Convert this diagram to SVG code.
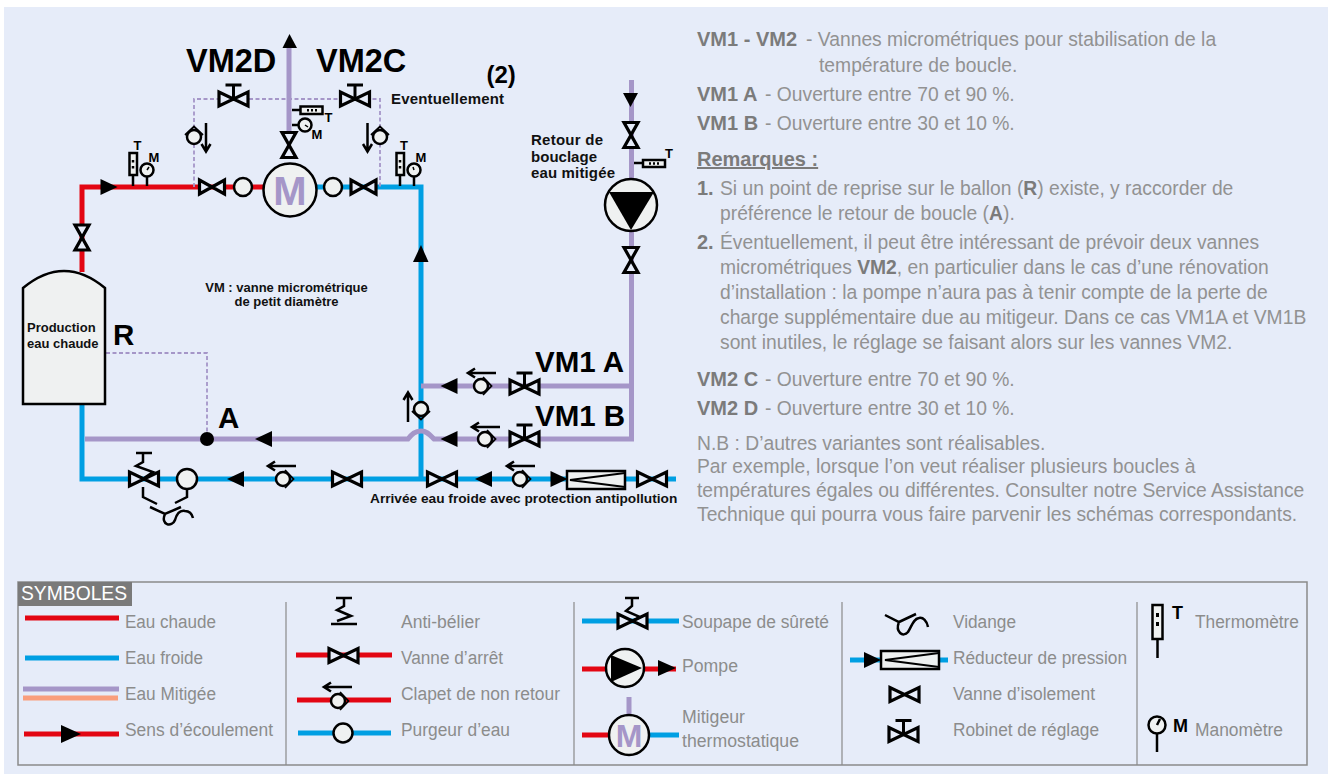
<svg xmlns="http://www.w3.org/2000/svg" width="1328" height="774" viewBox="0 0 1328 774">
<defs>
<style>
text{font-family:"Liberation Sans",Arial,sans-serif}
.b{font-weight:700;fill:#111}
.g{fill:#929292;font-size:19.3px}
.g tspan{fill:#7b7b7b}
.gb{fill:#7b7b7b;font-size:20px;font-weight:700}
.l{fill:#8c8c8c;font-size:18px}
.big{font-weight:700;fill:#000;font-size:29.5px}
.vm2{font-weight:700;fill:#000;font-size:32.5px}
.mid{font-weight:700;fill:#111;font-size:15px}
.sm{font-weight:700;fill:#111;font-size:13px}
.t{font-weight:700;fill:#000;font-size:13px}
.p{fill:none;stroke-width:5}
.red{stroke:#e30613}.blue{stroke:#009fe3}.mix{stroke:#a596c8}
.dash{fill:none;stroke:#a596c8;stroke-width:1.8;stroke-dasharray:4 2.5}
.k{fill:none;stroke:#000;stroke-width:2.5}
.o{fill:#eff1f1;stroke:#000;stroke-width:2.5}
</style>
<path id="valve" d="M-12.5-7V7L12.5-7V7Z" fill="#e6ecf9" stroke="#000" stroke-width="3.2"/>
<path id="valveL" d="M-14.5-7V7L14.5-7V7Z" fill="#e6ecf9" stroke="#000" stroke-width="3.2"/>
<g id="ctl"><use href="#valveL"/><path d="M0 0V-14M-8-14H8" fill="none" stroke="#000" stroke-width="3"/></g>
<path id="tri" d="M-8.500 0L8.500-8V8Z" fill="#000"/>
<g id="chk"><circle r="7" class="o" stroke-width="2.2"/><path d="M2-9L10.500 0L2 9" fill="none" stroke="#000" stroke-width="1.800"/></g>
<path id="arrL" d="M29 0H2M8-4.500L1 0L8 4.500" fill="none" stroke="#000" stroke-width="2.600"/>
</defs>
<rect width="1328" height="774" fill="#fff"/>
<rect x="4" y="7" width="1324" height="767" fill="#e6ecf9"/>

<g id="connectors">
<path class="p red" d="M82 272V187H263"/>
<path class="p blue" d="M315 187H421V479"/>
<path class="p mix" d="M289 48V135"/>
<path class="p blue" d="M82 405V479H421M421 479H676"/>
<path class="p mix" d="M85 439H408C412 434 415 431 421 431C427 431 430 435 434 439H631.500V80M421 386H631.500"/>
<path class="dash" d="M194 187V99H380V187"/>
<path class="dash" d="M106 353H207V437"/>
</g>

<g id="tank"><path d="M23 404V288Q64 254 105 288V404Z" class="o" stroke-width="2"/>
<text class="b" font-size="13" x="27" y="332">Production</text><text class="b" font-size="13" x="27" y="348">eau chaude</text></g>
<use href="#valve" transform="translate(82,237.500) rotate(90)"/>
<use href="#tri" transform="translate(109,187) rotate(180)"/>

<g id="thermo-m-left"><path class="k" d="M133 186V175M147 186V176"/><rect x="129.500" y="153" width="7.500" height="22" class="o"/><path d="M133 160v2.500M133 166v2.500" class="k"/><circle cx="147" cy="170" r="6.500" class="o"/><path d="M147 170l2-3" stroke="#000" stroke-width="1.500"/>
<text class="t" x="137.500" y="150" text-anchor="middle">T</text><text class="t" x="154" y="162" text-anchor="middle">M</text></g>
<g id="thermo-m-right"><path class="k" d="M400 186V175M414 186V176"/><rect x="396.500" y="153" width="7.500" height="22" class="o"/><path d="M400 160v2.500M400 166v2.500" class="k"/><circle cx="414" cy="170" r="6.500" class="o"/><path d="M414 170l-1-3" stroke="#000" stroke-width="1.500"/>
<text class="t" x="404" y="150" text-anchor="middle">T</text><text class="t" x="421" y="162" text-anchor="middle">M</text></g>

<use href="#valve" transform="translate(212,187)"/>
<circle cx="243" cy="187" r="9" class="o" stroke-width="3.500"/>
<circle cx="333" cy="187" r="9" class="o" stroke-width="3.500"/>
<use href="#valve" transform="translate(363.500,187)"/>

<g id="mixer"><circle cx="290" cy="190" r="26.500" class="o" stroke-width="3.500"/><text x="290" y="205" text-anchor="middle" font-size="40" font-weight="700" fill="#a596c8">M</text></g>
<use href="#valve" transform="translate(289,145) rotate(90)"/>
<path d="M282.500 48L289.500 34L297 48Z" fill="#000"/>
<g id="t-m-top"><path d="M292 110H301M292 125H299" class="k"/><rect x="300.500" y="106.500" width="22" height="7.500" class="o"/><path d="M307 110.200h2M311 110.200h2M315 110.200h2" class="k" stroke-width="2"/><circle cx="305" cy="125" r="6.500" class="o"/><path d="M305 125l3 2" stroke="#000" stroke-width="1.500"/><text class="t" x="328.500" y="122" text-anchor="middle">T</text><text class="t" x="317" y="139" text-anchor="middle">M</text></g>

<use href="#ctl" transform="translate(233.500,99)"/>
<use href="#ctl" transform="translate(355,99)"/>
<text class="vm2" x="186" y="72">VM2D</text>
<text class="vm2" x="316" y="72">VM2C</text>
<text class="b" font-size="24" x="486.500" y="83" style="fill:#000">(2)</text>
<text class="mid" x="391" y="104" textLength="113" lengthAdjust="spacing">Eventuellement</text>

<g id="chk-d"><use href="#chk" transform="translate(194,137) rotate(-90)"/><path d="M206 123V151M201.500 144L206 151.500L210.500 144" class="k"/></g>
<g id="chk-c"><use href="#chk" transform="translate(380,137) rotate(-90)"/><path d="M367.500 123V151M363 144L367.500 151.500L372 144" class="k"/></g>

<text class="sm" x="286.500" y="292" text-anchor="middle">VM : vanne micrométrique</text>
<text class="sm" x="286.500" y="306" text-anchor="middle">de petit diamètre</text>
<path d="M413 262L421 245L428.500 262Z" fill="#000"/>

<text class="big" x="113" y="345">R</text>
<text class="big" x="218" y="428">A</text>
<circle cx="207" cy="439" r="7" fill="#000"/>
<use href="#tri" transform="translate(263.500,439)"/>

<g class="mid"><text class="mid" x="531" y="145" textLength="72">Retour de</text><text class="mid" x="531" y="162" textLength="66">bouclage</text><text class="mid" x="531" y="178" textLength="84">eau mitigée</text></g>
<path d="M623 93H638L630.500 107Z" fill="#000"/>
<use href="#valve" transform="translate(631,135) rotate(90)"/>
<path d="M634 163H643" class="k"/><rect x="643" y="160" width="22" height="7" class="o"/><path d="M649 163.500h2M653 163.500h2M657 163.500h2" class="k" stroke-width="2"/><text class="t" x="669" y="158" text-anchor="middle">T</text>
<g id="pump"><circle cx="631" cy="205" r="26" class="o" stroke-width="3"/><path d="M609 192H654L631 230Z" fill="#000"/></g>
<use href="#valve" transform="translate(631,260) rotate(90)"/>

<use href="#tri" transform="translate(449,386)"/>
<use href="#chk" transform="translate(481,386)"/>
<use href="#arrL" transform="translate(467,373)"/>
<use href="#ctl" transform="translate(524.500,387)"/>
<text class="big" x="535" y="372">VM1 A</text>
<use href="#tri" transform="translate(449,439)"/>
<use href="#chk" transform="translate(485,439)"/>
<use href="#arrL" transform="translate(471,427)"/>
<use href="#ctl" transform="translate(524.500,439)"/>
<text class="big" x="535" y="426">VM1 B</text>
<g id="chk-up"><use href="#chk" transform="translate(421,409) rotate(90)"/><path d="M408 422V393M403.500 400L408 392.500L412.500 400" class="k"/></g>

<use href="#valveL" transform="translate(347,479)"/>
<use href="#valveL" transform="translate(442,479)"/>
<use href="#tri" transform="translate(483.500,479)"/>
<use href="#chk" transform="translate(520,479)"/>
<use href="#arrL" transform="translate(506,466)"/>
<use href="#tri" transform="translate(559,479) rotate(180)"/>
<g id="reducer"><rect x="567" y="471" width="58" height="18" class="o" stroke-width="3"/><path d="M625 473L570 480L625 487" fill="none" stroke="#000" stroke-width="1.800"/></g>
<use href="#valveL" transform="translate(652,479)"/>
<text class="sm" x="370" y="503" style="font-size:13.700px">Arrivée eau froide avec protection antipollution</text>

<use href="#tri" transform="translate(235.500,479)"/>
<use href="#chk" transform="translate(283,479)"/>
<use href="#arrL" transform="translate(267,466)"/>
<g id="safety"><use href="#valveL" transform="translate(144,479)"/><path d="M136 453H152M143 453V462L136 466L153 472L144 478" class="k" stroke-width="3"/><circle cx="187" cy="479" r="10" class="o" stroke-width="3.500"/></g>
<path class="k" d="M143 487V497L157 504M187 490V497L175 503M150 507L165 514L181 507M165 514C160 525 172 528 175 520C177 513 180 510 185 511C189 511 192 514 193 518"/>

<g id="notes">
<text class="gb" x="697" y="46">VM1 - VM2</text><text class="g" x="806" y="46">- Vannes micrométriques pour stabilisation de la</text>
<text class="g" x="819" y="72">température de boucle.</text>
<text class="gb" x="697" y="101">VM1 A</text><text class="g" x="765" y="101">- Ouverture entre 70 et 90 %.</text>
<text class="gb" x="697" y="130">VM1 B</text><text class="g" x="765" y="130">- Ouverture entre 30 et 10 %.</text>
<text class="gb" x="697" y="166" text-decoration="underline">Remarques :</text>
<text class="gb" x="697" y="195">1.</text><text class="g" x="720" y="195">Si un point de reprise sur le ballon (<tspan font-weight="700">R</tspan>) existe, y raccorder de</text>
<text class="g" x="720" y="220">préférence le retour de boucle (<tspan font-weight="700">A</tspan>).</text>
<text class="gb" x="697" y="249">2.</text><text class="g" x="720" y="249">Éventuellement, il peut être intéressant de prévoir deux vannes</text>
<text class="g" x="720" y="274">micrométriques <tspan font-weight="700">VM2</tspan>, en particulier dans le cas d’une rénovation</text>
<text class="g" x="720" y="299">d’installation : la pompe n’aura pas à tenir compte de la perte de</text>
<text class="g" x="720" y="324">charge supplémentaire due au mitigeur. Dans ce cas VM1A et VM1B</text>
<text class="g" x="720" y="349">sont inutiles, le réglage se faisant alors sur les vannes VM2.</text>
<text class="gb" x="697" y="386">VM2 C</text><text class="g" x="765" y="386">- Ouverture entre 70 et 90 %.</text>
<text class="gb" x="697" y="415">VM2 D</text><text class="g" x="765" y="415">- Ouverture entre 30 et 10 %.</text>
<text class="g" x="697" y="450">N.B : D’autres variantes sont réalisables.</text>
<text class="g" x="697" y="473">Par exemple, lorsque l’on veut réaliser plusieurs boucles à</text>
<text class="g" x="697" y="497">températures égales ou différentes. Consulter notre Service Assistance</text>
<text class="g" x="697" y="521">Technique qui pourra vous faire parvenir les schémas correspondants.</text>
</g>

<g id="legend">
<rect x="18" y="582" width="1289" height="183" fill="none" stroke="#8a8a8a" stroke-width="1.500"/>
<rect x="18" y="582" width="114" height="24" fill="#7a7a7a"/>
<text x="21" y="600" font-size="19.300" fill="#fff">SYMBOLES</text>
<path d="M286 602V765M574 602V765M842 602V765M1137 602V765" stroke="#8a8a8a" stroke-width="1.200" fill="none"/>

<path d="M25 618H119" stroke="#e30613" stroke-width="5"/><text class="l" x="125" y="628" textLength="91" lengthAdjust="spacingAndGlyphs">Eau chaude</text>
<path d="M25 658H119" stroke="#009fe3" stroke-width="5"/><text class="l" x="125" y="664" textLength="78" lengthAdjust="spacingAndGlyphs">Eau froide</text>
<path d="M23 689H119" stroke="#a596c8" stroke-width="5"/><path d="M23 698H118" stroke="#f99e7d" stroke-width="5"/><text class="l" x="125" y="700" textLength="91" lengthAdjust="spacingAndGlyphs">Eau Mitigée</text>
<path d="M24 734H119" stroke="#e30613" stroke-width="5"/><path d="M61 725L81 734L61 743Z" fill="#000"/><text class="l" x="125" y="736" textLength="148" lengthAdjust="spacingAndGlyphs">Sens d’écoulement</text>

<path class="k" stroke-width="3.500" d="M336 598H352M344 598V606L337 610L351 616L337 621M331 624H357"/><text class="l" x="401" y="628" textLength="79" lengthAdjust="spacingAndGlyphs">Anti-bélier</text>
<path d="M296 655H392" stroke="#e30613" stroke-width="5"/><use href="#valveL" transform="translate(343.500,655.500)"/><text class="l" x="401" y="664" textLength="102" lengthAdjust="spacingAndGlyphs">Vanne d’arrêt</text>
<path d="M297 700H391" stroke="#e30613" stroke-width="5"/><use href="#chk" transform="translate(338,701)"/><use href="#arrL" transform="translate(323,687)"/><text class="l" x="401" y="700" textLength="159" lengthAdjust="spacingAndGlyphs">Clapet de non retour</text>
<path d="M298 733H391" stroke="#009fe3" stroke-width="5"/><circle cx="343" cy="733" r="9.500" class="o" stroke-width="4"/><text class="l" x="401" y="736" textLength="109" lengthAdjust="spacingAndGlyphs">Purgeur d’eau</text>

<path d="M582 621H679" stroke="#009fe3" stroke-width="5"/><use href="#valveL" transform="translate(632.500,621)"/><path class="k" stroke-width="3.500" d="M625 598H639M632 598V606L626 611L640 617L632 621"/><text class="l" x="682" y="628" textLength="147" lengthAdjust="spacingAndGlyphs">Soupape de sûreté</text>
<path d="M582 669H676" stroke="#e30613" stroke-width="5"/><g id="leg-pump"><circle cx="625" cy="668" r="19" class="o" stroke-width="3.500"/><path d="M611 655L642 668L611 682Z" fill="#000"/></g><path d="M658 660L676 668L658 676Z" fill="#000"/><text class="l" x="682" y="672" textLength="56" lengthAdjust="spacingAndGlyphs">Pompe</text>
<path d="M582 735H630" stroke="#e30613" stroke-width="5"/><path d="M630 735H679" stroke="#009fe3" stroke-width="5"/><path d="M629 697V715" stroke="#a596c8" stroke-width="5"/><circle cx="629" cy="735" r="20" class="o" stroke-width="3.500"/><text x="629" y="747" text-anchor="middle" font-size="32" font-weight="700" fill="#a596c8">M</text><text class="l" x="682" y="723" textLength="63" lengthAdjust="spacingAndGlyphs">Mitigeur</text><text class="l" x="682" y="747" textLength="117" lengthAdjust="spacingAndGlyphs">thermostatique</text>

<path class="k" stroke-width="3.500" d="M885 615L899 622L916 614M899 622C895 632 903 638 908 632C912 626 913 619 919 618C923 617 927 621 928 627"/><text class="l" x="953" y="628" textLength="63" lengthAdjust="spacingAndGlyphs">Vidange</text>
<path d="M850 660H948" stroke="#009fe3" stroke-width="5"/><path d="M864 652L881 660L864 668Z" fill="#000"/><rect x="881" y="651" width="58" height="18" class="o" stroke-width="3.500"/><path d="M939 653L885 660L939 667" fill="none" stroke="#000" stroke-width="2"/><text class="l" x="953" y="664" textLength="174" lengthAdjust="spacingAndGlyphs">Réducteur de pression</text>
<use href="#valveL" transform="translate(904.500,694.500)"/><text class="l" x="953" y="700" textLength="142" lengthAdjust="spacingAndGlyphs">Vanne d’isolement</text>
<use href="#ctl" transform="translate(903.500,734.500)"/><text class="l" x="953" y="736" textLength="146" lengthAdjust="spacingAndGlyphs">Robinet de réglage</text>

<rect x="1152.500" y="605" width="10" height="34" class="o" stroke-width="3.500"/><path d="M1157.500 640V658" class="k" stroke-width="3"/><rect x="1156" y="613" width="3" height="4"/><rect x="1156" y="622" width="3" height="4"/><text class="t" x="1172" y="619" style="font-size:18px">T</text><text class="l" x="1195" y="628" textLength="104" lengthAdjust="spacingAndGlyphs">Thermomètre</text>
<circle cx="1157" cy="725" r="8.500" class="o" stroke-width="3.500"/><path d="M1157 734V752M1157 725L1160 719" class="k" stroke-width="3"/><text class="t" x="1173" y="732" style="font-size:18px">M</text><text class="l" x="1195" y="736" textLength="88" lengthAdjust="spacingAndGlyphs">Manomètre</text>
</g>
</svg>
